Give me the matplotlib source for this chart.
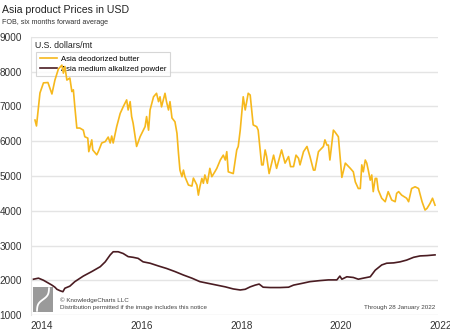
import matplotlib
matplotlib.use("Agg")
import matplotlib.pyplot as plt
import matplotlib.transforms as mtransforms
from matplotlib.patches import Rectangle
import numpy as np

plt.rcParams['font.family'] = ['Liberation Sans', 'DejaVu Sans']

# Asia deodorized butter, FOB (decimal year, USD/mt)
butter_t = [2014.04, 2014.07, 2014.14, 2014.21, 2014.30, 2014.38, 2014.44, 2014.51, 2014.58, 2014.61,
            2014.64, 2014.68, 2014.74, 2014.78, 2014.81, 2014.84, 2014.88, 2014.94, 2015.01, 2015.04,
            2015.10, 2015.12, 2015.18, 2015.20, 2015.28, 2015.31, 2015.38, 2015.45, 2015.51, 2015.55,
            2015.58, 2015.61, 2015.68, 2015.75, 2015.81, 2015.88, 2015.91, 2015.95, 2015.98, 2016.01,
            2016.08, 2016.15, 2016.25, 2016.28, 2016.32, 2016.35, 2016.42, 2016.48, 2016.52, 2016.55,
            2016.58, 2016.65, 2016.68, 2016.72, 2016.75, 2016.79, 2016.85, 2016.89, 2016.92, 2016.95,
            2016.99, 2017.02, 2017.05, 2017.12, 2017.19, 2017.22, 2017.29, 2017.32, 2017.35, 2017.39,
            2017.42, 2017.45, 2017.50, 2017.55, 2017.59, 2017.65, 2017.69, 2017.76, 2017.82, 2017.86,
            2017.89, 2017.92, 2018.02, 2018.09, 2018.12, 2018.16, 2018.22, 2018.26, 2018.32, 2018.36,
            2018.42, 2018.49, 2018.52, 2018.59, 2018.62, 2018.66, 2018.69, 2018.74, 2018.83, 2018.89,
            2018.99, 2019.06, 2019.13, 2019.17, 2019.23, 2019.28, 2019.33, 2019.36, 2019.43, 2019.50,
            2019.56, 2019.63, 2019.66, 2019.73, 2019.83, 2019.86, 2019.90, 2019.93, 2019.96, 2020.03,
            2020.06, 2020.13, 2020.20, 2020.27, 2020.37, 2020.43, 2020.47, 2020.53, 2020.57, 2020.60,
            2020.63, 2020.67, 2020.70, 2020.73, 2020.77, 2020.80, 2020.83, 2020.87, 2020.90, 2020.93,
            2021.00, 2021.07, 2021.13, 2021.20, 2021.27, 2021.30, 2021.34, 2021.40, 2021.50, 2021.54,
            2021.60, 2021.67, 2021.74, 2021.81, 2021.87, 2021.91, 2021.97, 2022.02, 2022.07]
butter_v = [6610, 6440, 7390, 7680, 7690, 7360, 7760, 8080, 8190, 7960,
            8150, 7760, 7820, 7430, 7480, 6990, 6380, 6380, 6320, 6130,
            6090, 5700, 6040, 5750, 5610, 5700, 5950, 5990, 6120, 5950,
            6150, 5950, 6420, 6800, 6990, 7190, 6900, 7140, 6710, 6520,
            5850, 6130, 6420, 6710, 6320, 6900, 7280, 7380, 7140, 7280,
            6990, 7380, 7140, 6900, 7140, 6670, 6560, 6230, 5660, 5170,
            4980, 5170, 4980, 4740, 4710, 4940, 4740, 4450, 4690, 4930,
            4790, 5030, 4790, 5220, 4980, 5120, 5220, 5460, 5600, 5460,
            5700, 5120, 5070, 5750, 5850, 6320, 7280, 6900, 7380, 7330,
            6470, 6420, 6320, 5320, 5320, 5750, 5560, 5070, 5600, 5220,
            5750, 5370, 5560, 5270, 5270, 5600, 5510, 5320, 5700, 5850,
            5560, 5170, 5170, 5700, 5850, 6040, 5890, 5890, 5460, 6320,
            6270, 6130, 4960, 5370, 5220, 5120, 4830, 4640, 4640, 5320,
            5120, 5460, 5370, 5170, 4880, 5030, 4550, 4930, 4930, 4600,
            4360, 4260, 4550, 4310, 4260, 4500, 4550, 4450, 4360, 4260,
            4640, 4690, 4640, 4260, 4020, 4070, 4210, 4360, 4160]

# Asia medium alkalized powder, FOB (decimal year, USD/mt)
powder_t = [2014.01, 2014.11, 2014.21, 2014.38, 2014.44, 2014.48, 2014.54, 2014.60, 2014.64, 2014.74,
            2014.84, 2015.01, 2015.18, 2015.35, 2015.45, 2015.55, 2015.61, 2015.71, 2015.81, 2015.91,
            2016.01, 2016.11, 2016.21, 2016.35, 2016.52, 2016.68, 2016.85, 2017.02, 2017.19, 2017.35,
            2017.52, 2017.69, 2017.86, 2018.02, 2018.16, 2018.26, 2018.36, 2018.46, 2018.54, 2018.62,
            2018.76, 2018.96, 2019.13, 2019.23, 2019.40, 2019.56, 2019.76, 2019.93, 2020.10, 2020.16,
            2020.20, 2020.30, 2020.43, 2020.53, 2020.63, 2020.77, 2020.87, 2021.00, 2021.10, 2021.24,
            2021.37, 2021.50, 2021.64, 2021.77, 2021.91, 2022.07]
powder_v = [2030, 2060, 2000, 1860, 1800, 1740, 1700, 1670, 1770, 1830,
            1960, 2120, 2250, 2390, 2530, 2730, 2820, 2820, 2770, 2680,
            2660, 2630, 2530, 2490, 2410, 2340, 2250, 2150, 2060, 1960,
            1910, 1860, 1810, 1750, 1720, 1740, 1810, 1860, 1890, 1800,
            1790, 1790, 1800, 1860, 1910, 1960, 1990, 2010, 2010, 2120,
            2030, 2100, 2080, 2030, 2060, 2100, 2290, 2440, 2490, 2500,
            2530, 2580, 2660, 2700, 2710, 2730]

years = [2014, 2016, 2018, 2020, 2022]
yticks = [1000, 2000, 3000, 4000, 5000, 6000, 7000, 8000, 9000]

W, H = 450, 333
fig = plt.figure(figsize=(W / 100, H / 100), dpi=100)
ax = fig.add_axes([31 / W, 1 - 315 / H, (438 - 31) / W, (315 - 37) / H])

ax.plot(butter_t, butter_v, color='#f6b81c', lw=1.2, label='Asia deodorized butter', zorder=3)
ax.plot(powder_t, powder_v, color='#4a1c22', lw=1.2, label='Asia medium alkalized powder', zorder=3)

ax.set_xlim(2013.96, 2022.13)
ax.set_ylim(1000, 9000)
ax.set_yticks(yticks)
ax.set_xticks(years)
ax.set_xticklabels([str(y) for y in years])
ax.grid(axis='y', color='#e4e4e4', lw=1)
ax.set_axisbelow(True)
ax.tick_params(length=0, labelsize=7.2, colors='#333333')
ax.tick_params(axis='y', pad=6.5)
ax.tick_params(axis='x', pad=4)
for side in ['top', 'right', 'bottom']:
    ax.spines[side].set_visible(False)
ax.spines['left'].set_color('#e4e4e4')

# year labels sit a little right of their tick
shift = mtransforms.ScaledTranslation(9 / 100, 0, fig.dpi_scale_trans)
for lab in ax.get_xticklabels():
    lab.set_transform(lab.get_transform() + shift)

leg = ax.legend(loc='upper left', bbox_to_anchor=(5 / 407, 1 - 15 / 278), fontsize=5.6,
                frameon=True, fancybox=False, borderpad=0.45, handlelength=2.2,
                handletextpad=0.6, labelspacing=0.3, borderaxespad=0)
leg.get_frame().set_edgecolor('#cccccc')
leg.get_frame().set_linewidth(0.8)
leg.set_zorder(2)

fig.text(2 / W, 1 - 10 / H, 'Asia product Prices in USD', fontsize=7.6, va='center', color='#222222')
fig.text(2 / W, 1 - 23 / H, 'FOB, six months forward average', fontsize=5.1, va='center', color='#333333')
fig.text(35 / W, 1 - 46 / H, 'U.S. dollars/mt', fontsize=6.3, va='center', color='#222222')

# logo
lx, ly, lw_, lh = 33 / W, 1 - 312 / H, 20 / W, 25 / H
fig.patches.append(Rectangle((lx, ly), lw_, lh, transform=fig.transFigure,
                             facecolor='#9a9a9a', edgecolor='none'))
s = np.linspace(-1, 1, 50)
fig.lines.append(plt.Line2D(lx + lw_ * (0.5 + 0.3 * np.tanh(2.5 * s) / np.tanh(2.5)),
                            ly + lh * (0.5 + 0.45 * s), transform=fig.transFigure,
                            color='white', lw=1.3))

fig.text(60 / W, 1 - 300 / H, '\u00a9 KnowledgeCharts LLC', fontsize=4.5, va='center', color='#444444')
fig.text(60 / W, 1 - 308 / H, 'Distribution permitted if the image includes this notice',
         fontsize=4.5, va='center', color='#444444')
fig.text(435 / W, 1 - 308 / H, 'Through 28 January 2022', fontsize=4.5, va='center', ha='right',
         color='#444444')

fig.savefig('out.png', dpi=100)
